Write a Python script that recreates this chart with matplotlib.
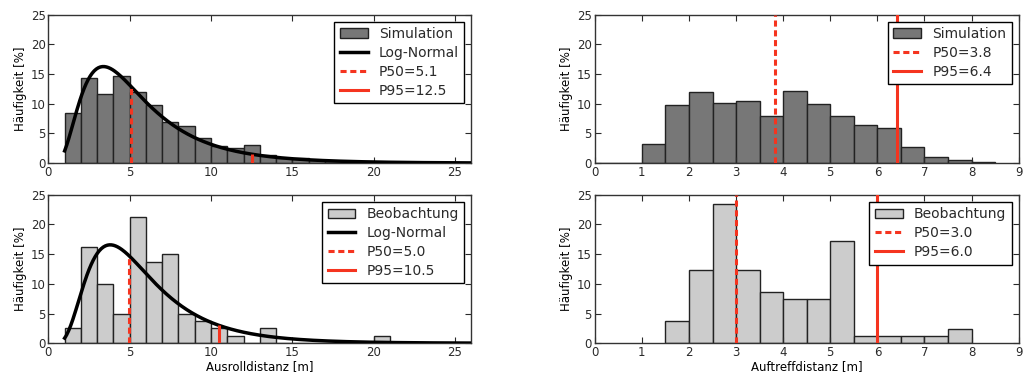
import numpy as np
import matplotlib
matplotlib.use("Agg")
import matplotlib.pyplot as plt
from matplotlib.patches import Patch
from matplotlib.lines import Line2D

# --- Ausrolldistanz (links), Klassenbreite 1 m ---
roll_edges_left = np.arange(1, 26, 1)
roll_sim = [8.5, 14.4, 11.6, 14.6, 12.0, 9.8, 6.9, 6.2, 4.3, 2.9, 2.6, 3.0,
            1.3, 0.9, 0.8, 0.5, 0.35, 0.25, 0.2, 0.15, 0.1, 0.07, 0.05, 0.04, 0.03]
roll_obs = [2.5, 16.25, 10.0, 5.0, 21.25, 13.75, 15.0, 5.0, 3.75, 2.5, 1.25, 0.0,
            2.5, 0.0, 0.0, 0.0, 0.0, 0.0, 0.0, 1.25, 0.0, 0.0, 0.0, 0.0, 0.0]

# Log-Normal Fit: (Amplitude, mu, sigma)
ln_sim = (99.0, 1.578, 0.60)
ln_obs = (101.0, 1.6375, 0.55)

roll_p_sim = (5.05, 12.5)
roll_p_obs = (4.97, 10.5)
roll_lbl_sim = ("P50=5.1", "P95=12.5")
roll_lbl_obs = ("P50=5.0", "P95=10.5")

# --- Auftreffdistanz (rechts), Klassenbreite 0.5 m ---
hit_edges_sim = np.arange(0, 8.5, 0.5)
hit_sim = [0.0, 0.0, 3.2, 9.8, 11.9, 10.2, 10.5, 8.0, 12.1, 9.9, 8.0, 6.4,
           5.9, 2.8, 1.1, 0.55, 0.15]
hit_edges_obs = np.arange(1.5, 8.0, 0.5)
hit_obs = [3.7, 12.35, 23.45, 12.35, 8.64, 7.41, 7.41, 17.28, 1.23, 1.23,
           1.23, 1.23, 2.47]
hit_p_sim = (3.83, 6.42)
hit_p_obs = (3.0, 6.0)
hit_lbl_sim = ("P50=3.8", "P95=6.4")
hit_lbl_obs = ("P50=3.0", "P95=6.0")

DARK = "#777777"
LIGHT = "#cccccc"
RED = "#f5341f"
TXT = "#2a2a2a"
DASH = (0, (2.0, 1.2))

plt.rcParams["font.family"] = ["DejaVu Sans"]
plt.rcParams["text.color"] = TXT
plt.rcParams["xtick.color"] = TXT
plt.rcParams["ytick.color"] = TXT

fig = plt.figure(figsize=(10.29, 3.76), dpi=100)
ax_tl = fig.add_axes([0.047, 0.566, 0.411, 0.395])
ax_bl = fig.add_axes([0.047, 0.087, 0.411, 0.395])
ax_tr = fig.add_axes([0.578, 0.566, 0.412, 0.395])
ax_br = fig.add_axes([0.578, 0.087, 0.412, 0.395])


def lognorm(x, p):
    a, mu, s = p
    return a / (x * s * np.sqrt(2 * np.pi)) * np.exp(-(np.log(x) - mu) ** 2 / (2 * s * s))


def style(ax, xmax, xticks):
    ax.set_xlim(0, xmax)
    ax.set_ylim(0, 25)
    ax.set_xticks(xticks)
    ax.set_yticks([0, 5, 10, 15, 20, 25])
    ax.tick_params(direction="in", top=True, right=True, length=4, labelsize=8.5, pad=2)
    for sp in ax.spines.values():
        sp.set_color("#333333")
        sp.set_linewidth(1.0)
    ax.set_ylabel("Häufigkeit [%]", fontsize=8.5, labelpad=3)


def roll_panel(ax, vals, color, name, lnp, pvals, plbls):
    ax.bar(roll_edges_left, vals, width=1, align="edge", color=color,
           edgecolor="#222222", linewidth=1.0)
    x = np.linspace(1, 26, 400)
    y = lognorm(x, lnp)
    ax.plot(x, y, color="black", lw=2.5, zorder=4)
    y50 = lognorm(np.array(pvals[0]), lnp)
    y95 = lognorm(np.array(pvals[1]), lnp)
    ax.vlines(pvals[0], 0, y50, color=RED, lw=2.2, linestyles=[DASH], zorder=5)
    ax.vlines(pvals[1], 0, y95, color=RED, lw=2.2, zorder=5)
    style(ax, 26, [0, 5, 10, 15, 20, 25])
    h = [Patch(facecolor=color, edgecolor="#222222"),
         Line2D([], [], color="black", lw=2.5),
         Line2D([], [], color=RED, lw=2.2, ls=DASH),
         Line2D([], [], color=RED, lw=2.2)]
    ax.legend(h, [name, "Log-Normal", plbls[0], plbls[1]], loc="upper right",
              fontsize=10, fancybox=False, framealpha=1, edgecolor="black",
              borderaxespad=0.5, handlelength=2.0, labelspacing=0.35)


def hit_panel(ax, edges, vals, color, name, pvals, plbls):
    ax.bar(edges, vals, width=0.5, align="edge", color=color,
           edgecolor="#222222", linewidth=1.0)
    ax.axvline(pvals[0], color=RED, lw=2.2, ls=DASH, zorder=5)
    ax.axvline(pvals[1], color=RED, lw=2.2, zorder=5)
    style(ax, 9, range(10))
    h = [Patch(facecolor=color, edgecolor="#222222"),
         Line2D([], [], color=RED, lw=2.2, ls=DASH),
         Line2D([], [], color=RED, lw=2.2)]
    ax.legend(h, [name, plbls[0], plbls[1]], loc="upper right",
              fontsize=10, fancybox=False, framealpha=1, edgecolor="black",
              borderaxespad=0.5, handlelength=2.0, labelspacing=0.35)


roll_panel(ax_tl, roll_sim, DARK, "Simulation", ln_sim, roll_p_sim, roll_lbl_sim)
roll_panel(ax_bl, roll_obs, LIGHT, "Beobachtung", ln_obs, roll_p_obs, roll_lbl_obs)
hit_panel(ax_tr, hit_edges_sim, hit_sim, DARK, "Simulation", hit_p_sim, hit_lbl_sim)
hit_panel(ax_br, hit_edges_obs, hit_obs, LIGHT, "Beobachtung", hit_p_obs, hit_lbl_obs)

ax_bl.set_xlabel("Ausrolldistanz [m]", fontsize=8.5, labelpad=1)
ax_br.set_xlabel("Auftreffdistanz [m]", fontsize=8.5, labelpad=1)

fig.savefig("out.png", dpi=100)
